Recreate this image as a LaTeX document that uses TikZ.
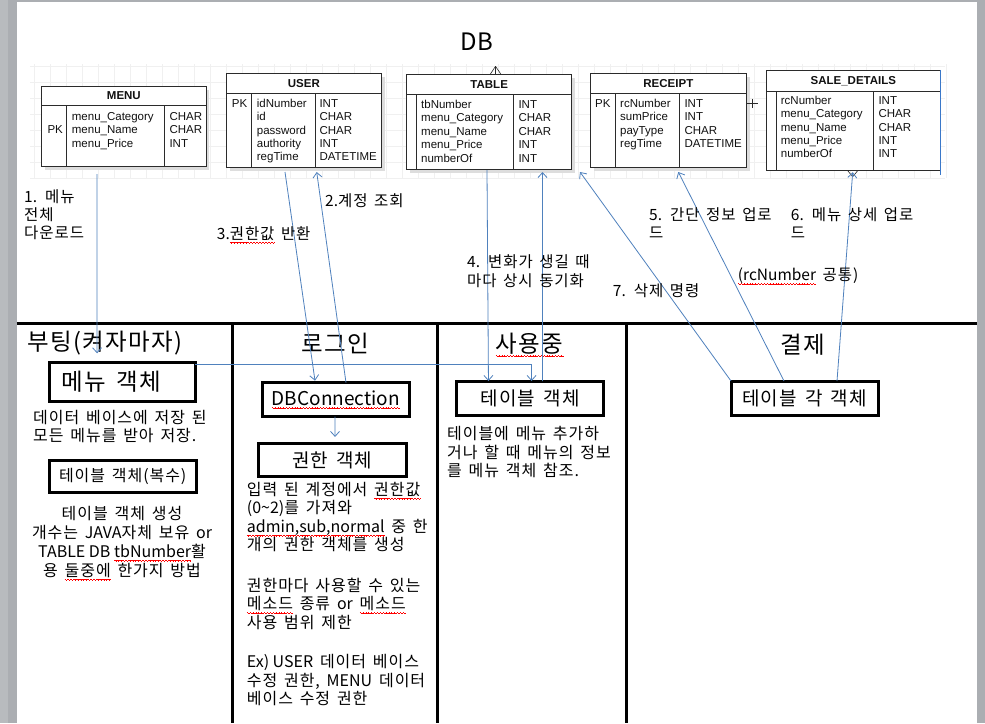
\documentclass[tikz,border=0pt]{standalone}
\usepackage{fontspec}
\setmainfont[LetterSpace=6,WordSpace=1.5]{Noto Sans CJK KR}
\newfontfamily\plainfont{Noto Sans CJK KR}
\newfontfamily\erdfont{Liberation Sans}
\newcommand\lat[1]{{\plainfont#1}}
\usepackage{xcolor}
\definecolor{dbink}{HTML}{111111}
\definecolor{dbline}{HTML}{2B2B2B}
\definecolor{dbblue}{HTML}{4F81BD}
\definecolor{dbedge}{HTML}{3A78C9}
\definecolor{dbgray}{HTML}{ABAEB2}
\definecolor{dbgraylt}{HTML}{B8BBBE}
\definecolor{dbgrid}{HTML}{F0F0F0}
\definecolor{dbshadow}{HTML}{DDDDDD}
\usepackage{tikz}
\usetikzlibrary{arrows.meta,calc}
\newsavebox\dbwavebox
\newcommand\redwave[1]{\sbox\dbwavebox{#1}\rlap{\color{red}\hbox to\wd\dbwavebox{\xleaders\hbox{%
  \rule[-2.8pt]{0.7pt}{0.55pt}\rule[-3.3pt]{0.7pt}{0.55pt}\rule[-3.8pt]{0.7pt}{0.55pt}\rule[-3.3pt]{0.7pt}{0.55pt}}\hfil}}%
  \usebox\dbwavebox}
\tikzset{
  dbtable/.style ={rectangle, draw=dbline, line width=0.8pt, fill=white, inner sep=0pt,
                   outer sep=0pt, anchor=north west},
  dbshade/.style ={rectangle, fill=dbshadow, inner sep=0pt, outer sep=0pt, anchor=north west},
  dbrule/.style  ={draw=dbline, line width=0.8pt},
  dbhead/.style  ={font=\erdfont\fontsize{11.5}{13}\selectfont\bfseries, text=dbink, inner sep=0pt},
  dbcell/.style  ={font=\erdfont\fontsize{11.5}{13}\selectfont, text=dbink, inner sep=0pt, anchor=base west},
  dbobj/.style   ={rectangle, draw=black, line width=3pt, fill=white, inner sep=0pt, outer sep=0pt,
                   font=\fontsize{19}{22}\selectfont},
  dbarrow/.style ={-{Straight Barb[length=5pt,width=9pt]}, line width=0.8pt, draw=dbblue},
  dblbl/.style   ={font=\fontsize{15.5}{18}\selectfont, align=left, anchor=north west, inner sep=0pt},
  dbnote/.style  ={font=\fontsize{16}{18.6}\selectfont, align=left, anchor=north west, inner sep=0pt},
  dbtitle/.style ={font=\fontsize{23.5}{26}\selectfont, inner sep=0pt},
  dbsep/.style   ={line width=3pt, draw=black},
}

\begin{document}
\begin{tikzpicture}[x=1pt, y=-1pt]
  \useasboundingbox (0,0) rectangle (985,723);
  % page and window frame
  \fill[dbgray] (0,0) rectangle (985,723);
  \fill[dbgraylt] (0,0) rectangle (8,723);
  \fill[white] (16.5,2.3) rectangle (977,723);

  % faint grid behind the ERD
  \foreach \gx in {34,50,...,946}
    \draw[dbgrid, line width=0.5pt] (\gx,64) -- (\gx,178);
  \foreach \gy in {66,82,...,178}
    \draw[dbgrid, line width=0.5pt] (30,\gy) -- (945,\gy);

  \node[font=\plainfont\fontsize{24}{26}\selectfont, inner sep=0pt] (dblabel) at (477,42) {DB};

  % MENU
  \node[dbshade, minimum width=164.3, minimum height=80] (menushade) at (45,89.5) {};
  \node[dbtable, minimum width=164.3, minimum height=80] (menu) at (41.7,86) {};
  \draw[dbrule] ($(menu.north west)+(0,19.7)$) -- ($(menu.north east)+(0,19.7)$);
  \draw[dbrule] ($(menu.north west)+(24.3,19.7)$) -- ($(menu.south west)+(24.3,0)$);
  \draw[dbrule] ($(menu.north west)+(122.6,19.7)$) -- ($(menu.south west)+(122.6,0)$);
  \node[dbhead] (menuhead) at ($(menu.north)+(0,10)$) {MENU};
  \node[dbcell] (menupk) at ($(menu.north west)+(5.6,47.8)$) {PK};
  \foreach \fld/\typ [count=\i] in {menu\_Category/CHAR, menu\_Name/CHAR, menu\_Price/INT}{
    \node[dbcell] (menuf\i) at ($(menu.north west)+(30,21.2+13.3*\i)$) {\fld};
    \node[dbcell] (menut\i) at ($(menu.north west)+(127.6,21.2+13.3*\i)$) {\typ};
  }

  % USER
  \node[dbshade, minimum width=155.7, minimum height=94.4] (usershade) at (229.5,76.8) {};
  \node[dbtable, minimum width=155.7, minimum height=94.4] (user) at (226,73.3) {};
  \draw[dbrule] ($(user.north west)+(0,20)$) -- ($(user.north east)+(0,20)$);
  \draw[dbrule] ($(user.north west)+(25.7,20)$) -- ($(user.south west)+(25.7,0)$);
  \draw[dbrule] ($(user.north west)+(89,20)$) -- ($(user.south west)+(89,0)$);
  \node[dbhead] (userhead) at ($(user.north)+(0,10)$) {USER};
  \node[dbcell] (userpk) at ($(user.north west)+(5.7,34)$) {PK};
  \foreach \fld/\typ [count=\i] in {idNumber/INT, id/CHAR, password/CHAR, authority/INT, regTime/DATETIME}{
    \node[dbcell] (userf\i) at ($(user.north west)+(30.7,20.6+13.4*\i)$) {\fld};
    \node[dbcell] (usert\i) at ($(user.north west)+(93.3,20.6+13.4*\i)$) {\typ};
  }

  % TABLE
  \node[dbshade, minimum width=165, minimum height=94.7] (tableshade) at (410.2,77.8) {};
  \node[dbtable, minimum width=165, minimum height=94.7] (table) at (406.7,74.3) {};
  \draw[dbrule] ($(table.north west)+(0,20)$) -- ($(table.north east)+(0,20)$);
  \draw[dbrule] ($(table.north west)+(9.3,20)$) -- ($(table.south west)+(9.3,0)$);
  \draw[dbrule] ($(table.north west)+(106.6,20)$) -- ($(table.south west)+(106.6,0)$);
  \node[dbhead] (tablehead) at ($(table.north)+(0,10)$) {TABLE};
  \foreach \fld/\typ [count=\i] in {tbNumber/INT, menu\_Category/CHAR, menu\_Name/CHAR, menu\_Price/INT, numberOf/INT}{
    \node[dbcell] (tablef\i) at ($(table.north west)+(14.3,20.2+13.5*\i)$) {\fld};
    \node[dbcell] (tablet\i) at ($(table.north west)+(111.6,20.2+13.5*\i)$) {\typ};
  }
  \draw[dbrule, line width=0.6pt] ($(table.north west)+(88.8,-8)$) -- ($(table.north west)+(83.5,0)$)
    ($(table.north west)+(88.8,-8)$) -- ($(table.north west)+(88.8,0)$)
    ($(table.north west)+(88.8,-8)$) -- ($(table.north west)+(94.3,0)$);

  % RECEIPT
  \node[dbshade, minimum width=156.7, minimum height=94] (receiptshade) at (593.5,76.8) {};
  \node[dbtable, minimum width=156.7, minimum height=94] (receipt) at (590,73.3) {};
  \draw[dbrule] ($(receipt.north west)+(0,20)$) -- ($(receipt.north east)+(0,20)$);
  \draw[dbrule] ($(receipt.north west)+(25,20)$) -- ($(receipt.south west)+(25,0)$);
  \draw[dbrule] ($(receipt.north west)+(89.3,20)$) -- ($(receipt.south west)+(89.3,0)$);
  \node[dbhead] (receipthead) at ($(receipt.north)+(0,10)$) {RECEIPT};
  \node[dbcell] (receiptpk) at ($(receipt.north west)+(5,34)$) {PK};
  \foreach \fld/\typ [count=\i] in {rcNumber/INT, sumPrice/INT, payType/CHAR, regTime/DATETIME}{
    \node[dbcell] (receiptf\i) at ($(receipt.north west)+(30,20.5+13.5*\i)$) {\fld};
    \node[dbcell] (receiptt\i) at ($(receipt.north west)+(94.3,20.5+13.5*\i)$) {\typ};
  }
  \draw[dbrule] ($(receipt.north east)+(0,30)$) -- ($(receipt.north east)+(11,30)$);
  \draw[dbrule] ($(receipt.north east)+(5.5,25.5)$) -- ($(receipt.north east)+(5.5,34.5)$);

  % SALE_DETAILS
  \node[dbtable, minimum width=173.3, minimum height=100.7] (sale) at (766.7,70) {};
  \draw[dbrule] ($(sale.north west)+(0,21.7)$) -- ($(sale.north east)+(0,21.7)$);
  \draw[dbrule] ($(sale.north west)+(9.3,21.7)$) -- ($(sale.south west)+(9.3,0)$);
  \draw[dbrule] ($(sale.north west)+(106.6,21.7)$) -- ($(sale.south west)+(106.6,0)$);
  \draw[dbedge, line width=1pt] (sale.north east) -- ($(sale.south east)+(0,4)$);
  \node[dbhead] (salehead) at ($(sale.north)+(0,10.8)$) {SALE\_DETAILS};
  \foreach \fld/\typ [count=\i] in {rcNumber/INT, menu\_Category/CHAR, menu\_Name/CHAR, menu\_Price/INT, numberOf/INT}{
    \node[dbcell] (salef\i) at ($(sale.north west)+(14,21.45+13.25*\i)$) {\fld};
    \node[dbcell] (salet\i) at ($(sale.north west)+(111.6,21.45+13.25*\i)$) {\typ};
  }
  \draw[dbrule, line width=0.6pt] ($(sale.south west)+(86,6)$) -- ($(sale.south west)+(81,0)$)
    ($(sale.south west)+(86,6)$) -- ($(sale.south west)+(91,0)$);

  % swim lanes
  \draw[dbsep] (16.5,323.5) -- (977,323.5);
  \foreach \lx in {232,437,626}
    \draw[dbsep] (\lx,323.5) -- (\lx,723);
  \node[dbtitle] (boot) at (105,343.3) {부팅(켜자마자)};
  \node[dbtitle] (login) at (335,343.3) {로그인};
  \node[dbtitle] (inuse) at (529.7,345) {\redwave{사용중}};
  \node[dbtitle] (pay) at (803,345) {결제};

  % objects
  \node[dbobj, minimum width=145.7, minimum height=39.4, font=\fontsize{23.5}{26}\selectfont]
    (menubox) at (122.2,382) {메뉴 객체\kern22pt};
  \node[dbobj, minimum width=146.7, minimum height=32, font=\fontsize{16}{18}\selectfont]
    (tblcnt) at (122.7,476.7) {테이블 객체(복수)};
  \node[dbobj, minimum width=147, minimum height=34, font=\plainfont\fontsize{19}{22}\selectfont]
    (dbconn) at (335.8,399.7) {\redwave{DBConnection}};
  \node[dbobj, minimum width=147.7, minimum height=32.7] (auth) at (332.2,460.3) {권한 객체};
  \node[dbobj, minimum width=147.5, minimum height=34] (tblobj) at (530.2,398) {테이블 객체};
  \node[dbobj, minimum width=147, minimum height=34] (payobj) at (804.5,398) {테이블 각 객체};

  % notes
  \node[dbnote] (menunote) at (33,409.7) {데이터 베이스에 저장 된\\모든 메뉴를 받아 저장.};
  \node[dbnote, font=\fontsize{16}{19}\selectfont, align=center, anchor=north] (tblnote) at (122,506.3)
    {테이블 객체 생성\\개수는 \lat{JAVA}자체 보유 \lat{or}\\\lat{TABLE DB \redwave{tbNumber}}활\\용 \redwave{둘중에} 한가지 방법};
  \node[dbnote, font=\fontsize{16}{18.5}\selectfont] (authnote) at (246.7,482)
    {입력 된 계정에서 \redwave{권한값}\\\lat{(0\textasciitilde2)}를 가져와\\\lat{\redwave{admin,sub,normal}} 중 한\\개의 권한 객체를 생성\\[22pt]%
     권한마다 사용할 수 있는\\\redwave{메소드} 종류 \lat{or} \redwave{메소드}\\사용 범위 제한\\[21pt]%
     \lat{Ex) USER} 데이터 베이스\\수정 권한, \lat{MENU} 데이터\\베이스 수정 권한};
  \node[dbnote] (usenote) at (447,426.3) {테이블에 메뉴 추가하\\거나 할 때 메뉴의 정보\\를 메뉴 객체 참조.};

  % flows
  \draw[dbarrow] ($(menu.south west)+(55.3,8)$) -- ($(menubox.north west)+(47.7,-9)$);
  \draw[dbarrow] ($(dbconn.north west)+(83.7,0)$) -- ($(user.south west)+(90.7,4.3)$);
  \draw[dbarrow] ($(user.south west)+(59,4.3)$) -- ($(dbconn.north west)+(52.7,-2)$);
  \draw[dbarrow] ($(dbconn.south west)+(72.7,0)$) -- ($(auth.north west)+(76.7,-7)$);
  \draw[dbarrow] ($(table.south west)+(80.3,1)$) -- ($(tblobj.north west)+(32,0)$);
  \draw[dbarrow] ($(tblobj.north west)+(86,0)$) -- ($(table.south west)+(135.8,3)$);
  \draw[dbarrow] ($(menubox.north east)+(0,1.7)$) -| ($(tblobj.north west)+(75.1,0)$);
  \draw[dbarrow] ($(payobj.north west)+(53,0)$) -- ($(receipt.south west)+(88.3,4.7)$);
  \draw[dbarrow] ($(payobj.north west)+(106,0)$) -- ($(sale.south west)+(86,1.5)$);
  \draw[dbarrow] (payobj.north west) -- ($(table.south east)+(8.3,3)$);

  % flow labels
  \node[dblbl, font=\fontsize{15.5}{17.7}\selectfont] (lbl1) at (24,189.7) {\lat{1.} 메뉴\\전체\\다운로드};
  \node[dblbl] (lbl2) at (325,193) {\lat{2.}계정 조회};
  \node[dblbl] (lbl3) at (216.7,226.3) {\lat{3.}\redwave{권한값} 반환};
  \node[dblbl, font=\fontsize{15.5}{18.3}\selectfont] (lbl4) at (467,254.7) {\lat{4.} 변화가 생길 때\\마다 상시 동기화};
  \node[dblbl] (lbl5) at (649,207.3) {\lat{5.} 간단 정보 업로\\드};
  \node[dblbl] (lbl6) at (790.7,207) {\lat{6.} 메뉴 상세 업로\\드};
  \node[dblbl] (lblrc) at (737.7,268) {\lat{\redwave{(rcNumber}} 공통)};
  \node[dblbl] (lbl7) at (612.7,283) {\lat{7.} 삭제 명령};
\end{tikzpicture}
\end{document}
